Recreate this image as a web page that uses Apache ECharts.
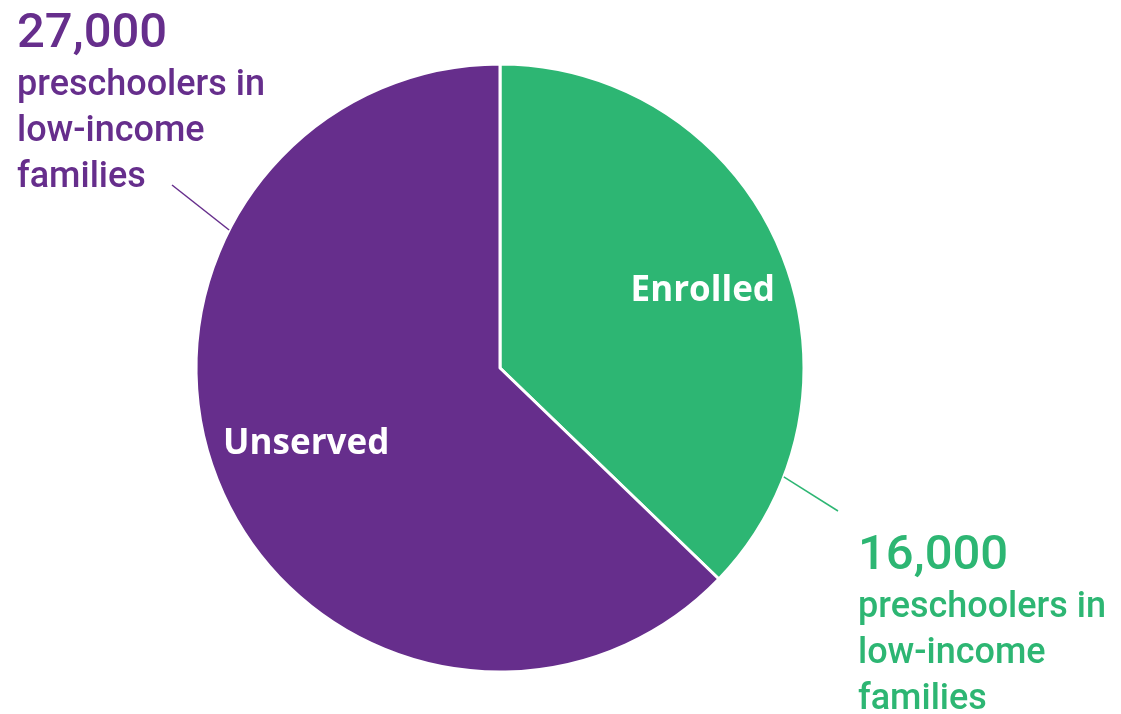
<!DOCTYPE html>
<html>
<head>
<meta charset="utf-8">
<script src="https://cdn.jsdelivr.net/npm/echarts@6/dist/echarts.min.js"></script>
<style>
  html, body { margin: 0; padding: 0; background: #fff; }
  #chart { width: 1121px; height: 714px; }
</style>
</head>
<body>
<div id="chart"></div>
<script>
// data
const categories = ["Enrolled", "Unserved"];
const counts = [16000, 27000];
const subtitle = ["preschoolers in", "low-income", "families"];
const colors = ["#2db673", "#662e8c"];

const center = [500, 368];
const radius = 304;

// where the callout text block sits (top-left) and leader line ends
const calloutPos = [[858, 528], [17, 6]];
const leaderAngle = [111, 297]; // degrees clockwise from 12 o'clock, on pie edge
const leaderEnd = [[838, 511], [172, 185]];
// nudge for the slice names
const nameShift = [[4, 8], [5, -8]];

function fmt(n) {
  return n.toLocaleString("en-US");
}

let chart = echarts.init(document.getElementById("chart"));

let leaderLines = leaderAngle.map((a, i) => {
  let rad = (a * Math.PI) / 180;
  let x1 = center[0] + radius * Math.sin(rad);
  let y1 = center[1] - radius * Math.cos(rad);
  return {
    type: "line",
    shape: { x1: x1, y1: y1, x2: leaderEnd[i][0], y2: leaderEnd[i][1] },
    style: { stroke: colors[i], lineWidth: 1.5 },
    z: 10
  };
});

let option = {
  animation: false,
  backgroundColor: "#fff",
  graphic: leaderLines,
  series: [
    {
      type: "pie",
      center: center,
      radius: radius,
      startAngle: 90,
      clockwise: true,
      avoidLabelOverlap: false,
      itemStyle: { borderColor: "#fff", borderWidth: 3 },
      label: {
        show: true,
        position: "outside",
        fontFamily: "Roboto",
        formatter: (p) => {
          let k = p.dataIndex === 0 ? "g" : "p";
          return "{n" + k + "|" + fmt(p.value) + "}\n" + subtitle.map((s) => "{t" + k + "|" + s + "}").join("\n");
        },
        rich: {
          ng: { color: colors[0], fontSize: 49, fontWeight: 500, fontFamily: "Roboto", lineHeight: 57 },
          np: { color: colors[1], fontSize: 49, fontWeight: 500, fontFamily: "Roboto", lineHeight: 57 },
          tg: { color: colors[0], fontSize: 36, fontWeight: 500, fontFamily: "Roboto", lineHeight: 46 },
          tp: { color: colors[1], fontSize: 36, fontWeight: 500, fontFamily: "Roboto", lineHeight: 46 }
        }
      },
      labelLine: { show: false },
      labelLayout: (p) => ({
        x: calloutPos[p.dataIndex][0],
        y: calloutPos[p.dataIndex][1],
        align: "left",
        verticalAlign: "top"
      }),
      emphasis: { disabled: true },
      data: categories.map((c, i) => ({ name: c, value: counts[i], itemStyle: { color: colors[i] } }))
    },
    {
      // transparent ring, only to place the slice names
      type: "pie",
      center: center,
      radius: [122, radius],
      startAngle: 90,
      clockwise: true,
      silent: true,
      itemStyle: { color: "transparent" },
      label: {
        show: true,
        position: "inside",
        formatter: "{b}",
        color: "#fff",
        fontFamily: "Open Sans",
        fontWeight: "bold",
        fontSize: 35
      },
      labelLine: { show: false },
      labelLayout: (p) => ({ dx: nameShift[p.dataIndex][0], dy: nameShift[p.dataIndex][1] }),
      emphasis: { disabled: true },
      data: categories.map((c, i) => ({ name: c, value: counts[i] }))
    }
  ]
};

chart.setOption(option);
</script>
</body>
</html>
